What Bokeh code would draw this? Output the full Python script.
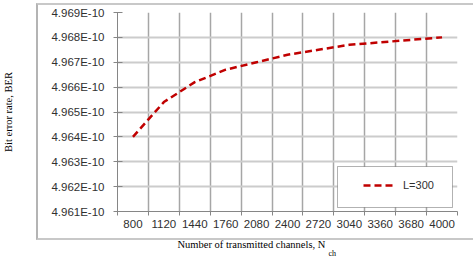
from bokeh.plotting import figure
from bokeh.models import (Range1d, FixedTicker, BoxAnnotation, Legend, LegendItem, Title, Label,
                          InlineStyleSheet)
from bokeh.embed import file_html
from bokeh.resources import INLINE

# ---- data ----
channels = [800, 1120, 1440, 1760, 2080, 2400, 2720, 3040, 3360, 3680, 4000]
ber_e10 = [4.9640, 4.9654, 4.9662, 4.9667, 4.9670, 4.9673, 4.9675, 4.9677, 4.9678, 4.9679, 4.9680]
series_label = "L=300"
y_ticks = [4.961, 4.962, 4.963, 4.964, 4.965, 4.966, 4.967, 4.968, 4.969]
y_tick_labels = ["4.961E-10", "4.962E-10", "4.963E-10", "4.964E-10", "4.965E-10",
                 "4.966E-10", "4.967E-10", "4.968E-10", "4.969E-10"]
x_title = "Number of transmitted channels, N"
x_title_sub = "ch"
y_title = "Bit error rate, BER"

step = channels[1] - channels[0]
boundaries = [channels[0] - step / 2] + [c + step / 2 for c in channels]

W, H = 475, 256
frame_css = InlineStyleSheet(css="""
:host::after {
  content: "";
  position: absolute;
  left: 36px; top: 3px; width: 435px; height: 233px;
  border-left: 2px solid #b4b4b4;
  border-top: 2px solid #c8c8c8;
  border-bottom: 2px solid #c8c8c8;
  pointer-events: none;
}
""")

p = figure(width=W, height=H, output_backend="svg", toolbar_location=None,
           x_range=Range1d(boundaries[0], boundaries[-1]),
           y_range=Range1d(y_ticks[0], y_ticks[-1]),
           min_border_left=115, min_border_right=18, min_border_top=12, min_border_bottom=43)
p.stylesheets = [frame_css]
p.background_fill_color = "white"
p.border_fill_color = "white"
p.outline_line_color = None

LBL_FONT = "Liberation Sans"
LBL_COLOR = "#303030"

# axes
xa = p.xaxis[0]
xa.ticker = FixedTicker(ticks=channels, minor_ticks=boundaries)
xa.major_tick_in = 0
xa.major_tick_out = 0
xa.minor_tick_in = 0
xa.minor_tick_out = 4
xa.minor_tick_line_color = "#868686"
xa.axis_line_color = "#868686"
xa.major_label_standoff = 4
xa.major_label_text_font = LBL_FONT
xa.major_label_text_font_size = "11.5px"
xa.major_label_text_color = LBL_COLOR

ya = p.yaxis[0]
ya.ticker = FixedTicker(ticks=y_ticks)
ya.major_label_overrides = {t: l for t, l in zip(y_ticks, y_tick_labels)}
ya.minor_tick_line_color = None
ya.major_tick_in = 5
ya.major_tick_out = 4
ya.major_tick_line_color = "#868686"
ya.axis_line_color = "#868686"
ya.major_label_standoff = 9
ya.major_label_text_font = LBL_FONT
ya.major_label_text_font_size = "11.5px"
ya.major_label_text_color = LBL_COLOR
ya.axis_label = y_title
ya.axis_label_text_font = "Liberation Serif"
ya.axis_label_text_font_style = "normal"
ya.axis_label_text_font_size = "10.5px"
ya.axis_label_text_color = "black"
ya.axis_label_standoff = 34

# grids
p.xgrid.grid_line_color = None
p.xgrid.minor_grid_line_color = "#a6a6a6"
p.xgrid.minor_grid_line_width = 1.5
p.ygrid.grid_line_color = "#cccccc"
p.ygrid.grid_line_width = 2

# legend box
p.add_layout(BoxAnnotation(left=337, right=452, top=166, bottom=207,
                           left_units="canvas", right_units="canvas",
                           top_units="canvas", bottom_units="canvas",
                           fill_color="white", fill_alpha=1, line_color="black", line_width=1))

r = p.line(x=channels, y=ber_e10, line_color="#c00000", line_width=2.5, line_dash="7 4")

legend = Legend(items=[LegendItem(label=series_label, renderers=[r])],
                location=(246, 16), padding=0, margin=0, glyph_width=32, glyph_height=20,
                label_standoff=8, label_text_font=LBL_FONT, label_text_font_size="11px",
                label_text_color=LBL_COLOR, border_line_alpha=0, background_fill_alpha=0)
p.add_layout(legend, "center")

# x axis title in the bottom panel, subscript as a canvas-positioned label
t1 = Title(text=x_title, align="left", offset=60, standoff=13,
           text_font="Liberation Serif", text_font_size="10.5px",
           text_font_style="normal", text_color="black")
p.add_layout(t1, "below")
sub = Label(x=328, y=253, x_units="canvas", y_units="canvas", text=x_title_sub,
            text_align="left", text_baseline="alphabetic",
            text_font="Liberation Serif", text_font_size="8px", text_color="black")
p.add_layout(sub, "right")

open("out.html", "w").write(file_html(p, INLINE))
